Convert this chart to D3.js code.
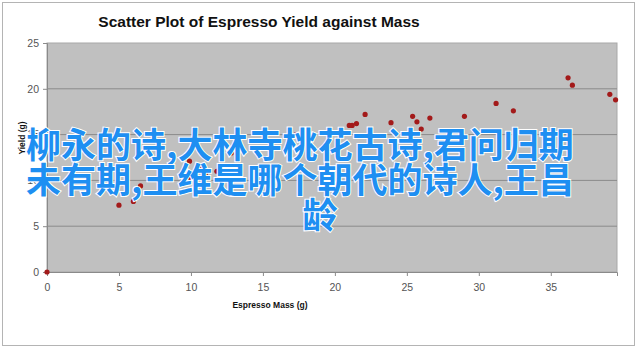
<!DOCTYPE html>
<html>
<head>
<meta charset="utf-8">
<script src="https://cdn.jsdelivr.net/npm/d3@7"></script>
<style>
  body { margin: 0; background: #fff; }
  svg text { font-family: 'Liberation Sans', Arial, sans-serif; }
</style>
</head>
<body>
<div id="chart"></div>
<script>
// values
const mass = [0, 5.0, 6.0, 6.5, 9.9, 10.0, 10.7, 11.0, 11.8, 12.8, 17.3, 21.0, 21.2, 21.5, 22.1, 23.9,
    25.4, 25.7, 26.0, 26.6, 29.0, 31.2, 32.4, 36.2, 36.5, 39.1, 39.5];
const yieldG = [0, 7.3, 7.7, 9.4, 12.1, 10.2, 11.5, 10.7, 11.0, 13.0, 15.0, 16.0, 16.0, 16.2, 17.2, 16.3,
    17.0, 16.4, 15.6, 16.8, 17.0, 18.4, 17.6, 21.2, 20.4, 19.4, 18.8];
const xTicks = [0, 5, 10, 15, 20, 25, 30, 35];
const yTicks = [0, 5, 10, 15, 20, 25];
const overlayLines = ['柳永的诗,大林寺桃花古诗,君问归期', '未有期,王维是哪个朝代的诗人,王昌', '龄'];

const width = 640;
const height = 350;
const plot = { left: 47, right: 617, top: 43, bottom: 272 };

const svg = d3.select('#chart')
    .append('svg')
    .attr('width', width)
    .attr('height', height);

// outer frame
svg.append('rect')
    .attr('x', 2.5).attr('y', 2.5)
    .attr('width', 632).attr('height', 343)
    .attr('fill', '#fff')
    .attr('stroke', '#b4b4b4');

const x = d3.scaleLinear().domain([0, 39.6]).range([plot.left, plot.right]);
const y = d3.scaleLinear().domain([0, 25]).range([plot.bottom, plot.top]);

svg.append('rect')
    .attr('x', plot.left).attr('y', plot.top)
    .attr('width', plot.right - plot.left).attr('height', plot.bottom - plot.top)
    .attr('fill', '#c0c0c0')
    .attr('stroke', '#a8a8a8');

// gridlines
svg.append('g')
    .selectAll('line')
    .data(yTicks.slice(1, -1))
    .enter()
    .append('line')
    .attr('x1', plot.left).attr('x2', plot.right)
    .attr('y1', (d) => y(d)).attr('y2', (d) => y(d))
    .attr('stroke', '#8a8a8a');

const xAxis = svg.append('g')
    .attr('transform', 'translate(0,' + plot.bottom + ')')
    .call(d3.axisBottom(x).tickValues(xTicks).tickSize(4).tickPadding(8));
const yAxis = svg.append('g')
    .attr('transform', 'translate(' + plot.left + ',0)')
    .call(d3.axisLeft(y).tickValues(yTicks).tickSize(4).tickPadding(4));

[xAxis, yAxis].forEach((g) => {
    g.select('.domain').attr('stroke', '#8a8a8a');
    g.selectAll('.tick line').attr('stroke', '#8a8a8a');
    g.selectAll('.tick text')
        .attr('fill', '#555')
        .style('font-size', '10.5px')
        .style('font-family', "'Liberation Sans', Arial, sans-serif");
});

// points
svg.append('g')
    .selectAll('circle')
    .data(mass.map((m, i) => [m, yieldG[i]]))
    .enter()
    .append('circle')
    .attr('cx', (d) => x(d[0]))
    .attr('cy', (d) => y(d[1]))
    .attr('r', 2.6)
    .attr('fill', '#a31a1a');

svg.append('text')
    .attr('x', 259).attr('y', 27)
    .attr('text-anchor', 'middle')
    .style('font-size', '15.5px')
    .style('font-weight', 'bold')
    .attr('fill', '#111')
    .text('Scatter Plot of Espresso Yield against Mass');

svg.append('text')
    .attr('x', 270).attr('y', 308)
    .attr('text-anchor', 'middle')
    .style('font-size', '8.5px')
    .style('font-weight', 'bold')
    .attr('fill', '#111')
    .text('Espresso Mass (g)');

svg.append('text')
    .attr('transform', 'translate(25,138) rotate(-90)')
    .attr('text-anchor', 'middle')
    .style('font-size', '8.5px')
    .style('font-weight', 'bold')
    .attr('fill', '#111')
    .text('Yield (g)');

// blue overlay text
svg.append('g')
    .selectAll('text')
    .data(overlayLines)
    .enter()
    .append('text')
    .attr('x', (d, i) => i < 2 ? 300 : 320)
    .attr('y', (d, i) => 158 + i * 35)
    .attr('text-anchor', 'middle')
    .style('font-family', "'Noto Sans CJK SC', sans-serif")
    .style('font-size', '35px')
    .style('font-weight', 'bold')
    .style('paint-order', 'stroke')
    .attr('stroke', '#fff')
    .attr('stroke-width', 2)
    .attr('fill', '#1e8ff2')
    .text((d) => d);
</script>
</body>
</html>
